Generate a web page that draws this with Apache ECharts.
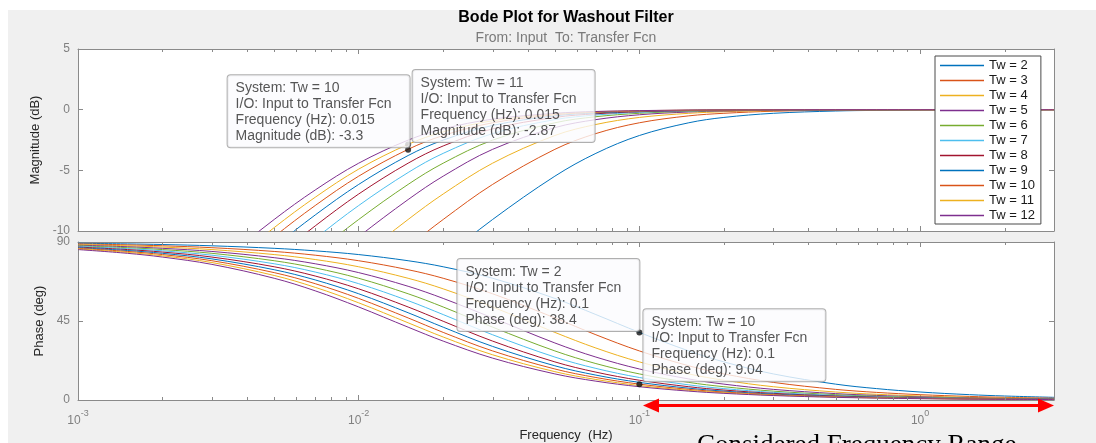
<!DOCTYPE html>
<html>
<head>
<meta charset="utf-8">
<script src="https://cdn.jsdelivr.net/npm/echarts@6/dist/echarts.min.js"></script>
<style>
html,body{margin:0;padding:0;background:#fff;}
#bg{position:absolute;left:8px;top:10px;width:1088px;height:433px;background:#f0f0f0;}
#chart{position:absolute;left:0;top:0;width:1096px;height:443px;}
</style>
</head>
<body>
<div id="bg"></div>
<div id="chart"></div>
<script>
// ---- data ----
const freq = [0.001, 0.0015, 0.002, 0.003, 0.005, 0.007, 0.01, 0.015, 0.02, 0.03, 0.05, 0.07, 0.1, 0.15, 0.2, 0.3, 0.5, 0.7, 1, 1.5, 2, 3];
const twValues = [2, 3, 4, 5, 6, 7, 8, 9, 10, 11, 12];

const magTw2  = [null, null, null, null, null, -21.1, -18.08, -14.64, -12.26, -9.05, -5.48, -3.6, -2.13, -1.08, -0.64, -0.3, -0.11, -0.06, -0.03, -0.01, -0.01, 0];
const magTw3  = [null, null, null, null, -20.55, -17.67, -14.64, -11.31, -9.05, -6.16, -3.27, -1.97, -1.08, -0.51, -0.3, -0.13, -0.05, -0.02, -0.01, -0.01, 0, 0];
const magTw4  = [null, null, null, -22.48, -18.08, -15.22, -12.26, -9.05, -6.95, -4.41, -2.13, -1.22, -0.64, -0.3, -0.17, -0.08, -0.03, -0.01, -0.01, 0, 0, 0];
const magTw5  = [null, null, null, -20.55, -16.18, -13.36, -10.47, -7.41, -5.48, -3.27, -1.48, -0.82, -0.42, -0.19, -0.11, -0.05, -0.02, -0.01, 0, 0, 0, 0];
const magTw6  = [null, null, -22.48, -18.98, -14.64, -11.86, -9.05, -6.16, -4.41, -2.51, -1.08, -0.58, -0.3, -0.13, -0.08, -0.03, -0.01, -0.01, 0, 0, 0, 0];
const magTw7  = [null, null, -21.15, -17.67, -13.36, -10.63, -7.9, -5.18, -3.6, -1.97, -0.82, -0.44, -0.22, -0.1, -0.06, -0.02, -0.01, 0, 0, 0, 0, 0];
const magTw8  = [null, -22.48, -20.0, -16.53, -12.26, -9.58, -6.95, -4.41, -2.99, -1.58, -0.64, -0.34, -0.17, -0.08, -0.04, -0.02, -0.01, 0, 0, 0, 0, 0];
const magTw9  = [null, -21.46, -18.98, -15.53, -11.31, -8.68, -6.16, -3.78, -2.51, -1.3, -0.51, -0.27, -0.13, -0.06, -0.03, -0.02, -0.01, 0, 0, 0, 0, 0];
const magTw10 = [null, -20.55, -18.08, -14.64, -10.47, -7.9, -5.48, -3.27, -2.13, -1.08, -0.42, -0.22, -0.11, -0.05, -0.03, -0.01, 0, 0, 0, 0, 0, 0];
const magTw11 = [-23.23, -19.73, -17.27, -13.85, -9.72, -7.22, -4.9, -2.86, -1.83, -0.91, -0.35, -0.18, -0.09, -0.04, -0.02, -0.01, 0, 0, 0, 0, 0, 0];
const magTw12 = [-22.48, -18.98, -16.53, -13.13, -9.05, -6.62, -4.41, -2.51, -1.58, -0.78, -0.3, -0.15, -0.08, -0.03, -0.02, -0.01, 0, 0, 0, 0, 0, 0];

const phaseTw2  = [89.28, 88.92, 88.56, 87.84, 86.40, 84.97, 82.84, 79.33, 75.89, 69.34, 57.86, 48.66, 38.51, 27.95, 21.70, 14.86, 9.04, 6.49, 4.55, 3.04, 2.28, 1.52];
const phaseTw3  = [88.92, 88.38, 87.84, 86.76, 84.62, 82.48, 79.33, 74.21, 69.34, 60.51, 46.75, 37.16, 27.95, 19.48, 14.86, 10.03, 6.06, 4.33, 3.04, 2.03, 1.52, 1.01];
const phaseTw4  = [88.56, 87.84, 87.12, 85.69, 82.84, 80.02, 75.89, 69.34, 63.31, 52.99, 38.51, 29.61, 21.70, 14.86, 11.25, 7.56, 4.55, 3.25, 2.28, 1.52, 1.14, 0.76];
const phaseTw5  = [88.20, 87.30, 86.40, 84.62, 81.07, 77.60, 72.56, 64.78, 57.86, 46.75, 32.48, 24.45, 17.66, 11.98, 9.04, 6.06, 3.64, 2.60, 1.82, 1.22, 0.91, 0.61];
const phaseTw6  = [87.84, 86.76, 85.69, 83.55, 79.33, 75.22, 69.34, 60.51, 52.99, 41.48, 27.95, 20.75, 14.86, 10.03, 7.56, 5.05, 3.04, 2.17, 1.52, 1.01, 0.76, 0.51];
const phaseTw7  = [87.48, 86.23, 84.97, 82.48, 77.60, 72.89, 66.26, 56.58, 48.66, 37.16, 24.45, 17.99, 12.81, 8.62, 6.49, 4.33, 2.60, 1.86, 1.30, 0.87, 0.65, 0.43];
const phaseTw8  = [87.12, 85.69, 84.26, 81.42, 75.89, 70.62, 63.31, 52.99, 44.85, 33.55, 21.70, 15.87, 11.25, 7.56, 5.68, 3.79, 2.28, 1.63, 1.14, 0.76, 0.57, 0.38];
const phaseTw9  = [86.76, 85.15, 83.55, 80.37, 74.21, 68.40, 60.51, 49.70, 41.48, 30.52, 19.48, 14.18, 10.03, 6.72, 5.05, 3.37, 2.03, 1.45, 1.01, 0.68, 0.51, 0.34];
const phaseTw10 = [86.40, 84.62, 82.84, 79.33, 72.56, 66.26, 57.86, 46.75, 38.51, 27.95, 17.66, 12.81, 9.04, 6.06, 4.55, 3.04, 1.82, 1.30, 0.91, 0.61, 0.46, 0.30];
const phaseTw11 = [86.05, 84.08, 82.13, 78.29, 70.94, 64.18, 55.35, 43.97, 35.88, 25.75, 16.14, 11.68, 8.23, 5.51, 4.14, 2.76, 1.66, 1.18, 0.83, 0.55, 0.41, 0.28];
const phaseTw12 = [85.69, 83.55, 81.42, 77.25, 69.34, 62.18, 52.99, 41.48, 33.55, 23.85, 14.86, 10.73, 7.56, 5.05, 3.79, 2.53, 1.52, 1.09, 0.76, 0.51, 0.38, 0.25];

const magYTicks = [-10, -5, 0, 5];
const phaseYTicks = [0, 45, 90];
const minorTickFreqs = [0.002,0.003,0.004,0.005,0.006,0.007,0.008,0.009,
                        0.02,0.03,0.04,0.05,0.06,0.07,0.08,0.09,
                        0.2,0.3,0.4,0.5,0.6,0.7,0.8,0.9, 2];

// data tips
const tipSystem = [10, 11, 2, 10];
const tipFreq   = [0.015, 0.015, 0.1, 0.1];
const tipValue  = [-3.3, -2.87, 38.4, 9.04];

// annotation arrow (frequency range)
const arrowFreqRange = [0.103, 3];
const arrowPhaseLevel = -3;

// ---- chart ----
const magSets = [magTw2, magTw3, magTw4, magTw5, magTw6, magTw7, magTw8, magTw9, magTw10, magTw11, magTw12];
const phaseSets = [phaseTw2, phaseTw3, phaseTw4, phaseTw5, phaseTw6, phaseTw7, phaseTw8, phaseTw9, phaseTw10, phaseTw11, phaseTw12];
const palette = ['#0072BD','#D95319','#EDB120','#7E2F8E','#77AC30','#4DBEEE','#A2142F'];
const names = twValues.map(t => 'Tw = ' + t);

const FONT = '"Liberation Sans", Arial, sans-serif';
const AX = '#8a8a8a';
const LBL = '#808080';

const chart = echarts.init(document.getElementById('chart'), null, {renderer: 'canvas'});

function xAxisDef(grid, pos, showLabels) {
  return {
    type: 'log', logBase: 10, gridIndex: grid, position: pos,
    min: 0.001, max: 3,
    axisLine: {show: true, onZero: false, lineStyle: {color: AX, width: 1}},
    axisTick: {show: true, inside: true, length: 5, lineStyle: {color: AX}},
    splitLine: {show: false},
    axisLabel: showLabels ? {
      show: true, margin: 9, showMaxLabel: false, fontFamily: FONT,
      formatter: function (v) {
        const e = Math.round(Math.log10(v));
        return '{b|10}{e|' + e + '}';
      },
      rich: {
        b: {fontSize: 12, color: LBL, fontFamily: FONT, lineHeight: 18, verticalAlign: 'bottom'},
        e: {fontSize: 9, color: LBL, fontFamily: FONT, lineHeight: 10, verticalAlign: 'top'}
      }
    } : {show: false},
    name: (grid === 1 && pos === 'bottom') ? 'Frequency  (Hz)' : '',
    nameLocation: 'middle', nameGap: 29,
    nameTextStyle: {fontSize: 13, color: '#262626', fontFamily: FONT}
  };
}
function yAxisDef(grid, pos, min, max, interval, name) {
  const left = pos === 'left';
  return {
    type: 'value', gridIndex: grid, position: pos, min: min, max: max, interval: interval,
    axisLine: {show: true, lineStyle: {color: AX, width: 1}},
    axisTick: {show: true, inside: true, length: 5, lineStyle: {color: AX}},
    splitLine: {show: false},
    axisLabel: left ? {show: true, margin: 8, fontSize: 12, color: LBL, fontFamily: FONT} : {show: false},
    name: left ? name : '', nameLocation: 'middle', nameGap: 31,
    nameTextStyle: {fontSize: 13, color: '#262626', fontFamily: FONT}
  };
}

const series = [];
twValues.forEach((tw, i) => {
  series.push({
    name: names[i], type: 'line', xAxisIndex: 0, yAxisIndex: 0,
    data: freq.map((f, j) => [f, magSets[i][j]]),
    symbol: 'none', smooth: 0.35, clip: true, connectNulls: false,
    lineStyle: {width: 1, color: palette[i % 7]}, itemStyle: {color: palette[i % 7]},
    z: 2
  });
});
twValues.forEach((tw, i) => {
  series.push({
    name: names[i], type: 'line', xAxisIndex: 2, yAxisIndex: 2,
    data: freq.map((f, j) => [f, phaseSets[i][j]]),
    symbol: 'none', smooth: 0.35, clip: true,
    lineStyle: {width: 1, color: palette[i % 7]}, itemStyle: {color: palette[i % 7]},
    z: 2
  });
});

// minor ticks on the log axes (2..9 x 10^n), top and bottom edges of each plot
function minorTickRender(params, api) {
  const cs = params.coordSys;
  const x = Math.round(api.coord([api.value(0), api.value(1)])[0]) + 0.5;
  const st = {stroke: AX, lineWidth: 1};
  return {type: 'group', children: [
    {type: 'line', shape: {x1: x, y1: cs.y + cs.height, x2: x, y2: cs.y + cs.height - 3}, style: st},
    {type: 'line', shape: {x1: x, y1: cs.y, x2: x, y2: cs.y + 3}, style: st}
  ]};
}
series.push({type: 'custom', name: 'minorMag', xAxisIndex: 0, yAxisIndex: 0, silent: true, clip: false,
  data: minorTickFreqs.map(f => [f, 0]), renderItem: minorTickRender, z: 5});
series.push({type: 'custom', name: 'minorPhase', xAxisIndex: 2, yAxisIndex: 2, silent: true, clip: false,
  data: minorTickFreqs.map(f => [f, 45]), renderItem: minorTickRender, z: 5});

// data tips
const TIP_W = 166, TIP_PAD = [5, 8, 3, 8];
const TIP_BOX_W = TIP_W + TIP_PAD[1] + TIP_PAD[3];
const tipLabelBase = {
  show: true, fontSize: 14, lineHeight: 16, color: '#2a2a2a', fontFamily: FONT,
  backgroundColor: '#fbfbfe', borderColor: '#9b9b9b', borderWidth: 1, borderRadius: 3,
  padding: TIP_PAD, width: TIP_W, overflow: 'none', align: 'left', verticalAlign: 'bottom'
};
function tipText(k, isMag) {
  return 'System: Tw = ' + tipSystem[k] + '\nI/O: Input to Transfer Fcn\nFrequency (Hz): ' + tipFreq[k] +
    '\n' + (isMag ? 'Magnitude (dB): ' : 'Phase (deg): ') + tipValue[k];
}
// box anchored to the marked point: left of it (-1) or right of it (+1)
const tipSide = [-1, 1, -1, 1];
const tipNudge = [[4.5, 0.5], [7.5, 0.5], [3, 1.5], [7, 0]];
function tipItem(k, isMag) {
  const dx = tipSide[k] < 0 ? tipNudge[k][0] - TIP_BOX_W : tipNudge[k][0];
  return {value: [tipFreq[k], tipValue[k]],
    label: Object.assign({}, tipLabelBase, {position: [dx, tipNudge[k][1]], formatter: tipText(k, isMag)})};
}
series.push({type: 'scatter', name: 'tipsMag', xAxisIndex: 0, yAxisIndex: 0, clip: false, silent: true,
  symbol: 'circle', symbolSize: 6, itemStyle: {color: '#111'}, z: 20,
  data: [tipItem(0, true), tipItem(1, true)]});
series.push({type: 'scatter', name: 'tipsPhase', xAxisIndex: 2, yAxisIndex: 2, clip: false, silent: true,
  symbol: 'circle', symbolSize: 6, itemStyle: {color: '#111'}, z: 20,
  data: [tipItem(2, false), tipItem(3, false)]});

chart.setOption({
  animation: false,
  backgroundColor: 'transparent',
  textStyle: {fontFamily: FONT},
  grid: [
    {left: 78, right: 42, top: 49, height: 182, show: true, backgroundColor: '#fff', borderWidth: 0},
    {left: 78, right: 42, top: 242, height: 160, show: true, backgroundColor: '#fff', borderWidth: 0}
  ],
  xAxis: [
    xAxisDef(0, 'bottom', false),
    xAxisDef(0, 'top', false),
    xAxisDef(1, 'bottom', true),
    xAxisDef(1, 'top', false)
  ],
  yAxis: [
    yAxisDef(0, 'left', magYTicks[0], magYTicks[magYTicks.length - 1], 5, 'Magnitude (dB)'),
    yAxisDef(0, 'right', magYTicks[0], magYTicks[magYTicks.length - 1], 5, ''),
    yAxisDef(1, 'left', phaseYTicks[0], phaseYTicks[phaseYTicks.length - 1], 45, 'Phase (deg)'),
    yAxisDef(1, 'right', phaseYTicks[0], phaseYTicks[phaseYTicks.length - 1], 45, '')
  ],
  legend: {
    data: names.map(n => ({name: n, icon: 'rect'})), orient: 'vertical', left: 935, top: 56,
    itemWidth: 44, itemHeight: 1.6, itemGap: 2, itemTextGap: 5,
    padding: [3, 6, 2, 5], backgroundColor: '#fff', borderColor: '#4a4a4a', borderWidth: 1, borderRadius: 0,
    textStyle: {fontSize: 13, color: '#1a1a1a', fontFamily: FONT, lineHeight: 13},
    selectedMode: false
  },
  series: series
});

// annotations positioned through the axes
const pL = chart.convertToPixel({seriesIndex: 11}, [arrowFreqRange[0], arrowPhaseLevel]);
const pR = chart.convertToPixel({seriesIndex: 11}, [arrowFreqRange[1], arrowPhaseLevel]);
const ay = Math.round(pL[1]) + 0.5;
const head = 16, half = 7;
chart.setOption({
  graphic: [
    {type: 'text', x: 566, y: 18, z: 50, style: {text: 'Bode Plot for Washout Filter', fontSize: 16, fontWeight: 'bold',
      fontFamily: FONT, fill: '#000', align: 'center', verticalAlign: 'middle'}},
    {type: 'text', x: 566, y: 38, z: 50, style: {text: 'From: Input  To: Transfer Fcn', fontSize: 14,
      fontFamily: FONT, fill: '#7a7a7a', align: 'center', verticalAlign: 'middle'}},
    {type: 'line', z: 50, shape: {x1: pL[0] + head - 2, y1: ay, x2: pR[0] - head + 2, y2: ay},
      style: {stroke: '#ff0000', lineWidth: 3}},
    {type: 'polygon', z: 50, shape: {points: [[pL[0], ay], [pL[0] + head, ay - half], [pL[0] + head, ay + half]]},
      style: {fill: '#ff0000'}},
    {type: 'polygon', z: 50, shape: {points: [[pR[0], ay], [pR[0] - head, ay - half], [pR[0] - head, ay + half]]},
      style: {fill: '#ff0000'}},
    {type: 'text', x: 697, y: 432, z: 50, style: {text: 'Considered Frequency Range', fontSize: 27,
      fontFamily: '"Liberation Serif", "Times New Roman", serif', fill: '#000', align: 'left', verticalAlign: 'top'}}
  ]
});
</script>
</body>
</html>
